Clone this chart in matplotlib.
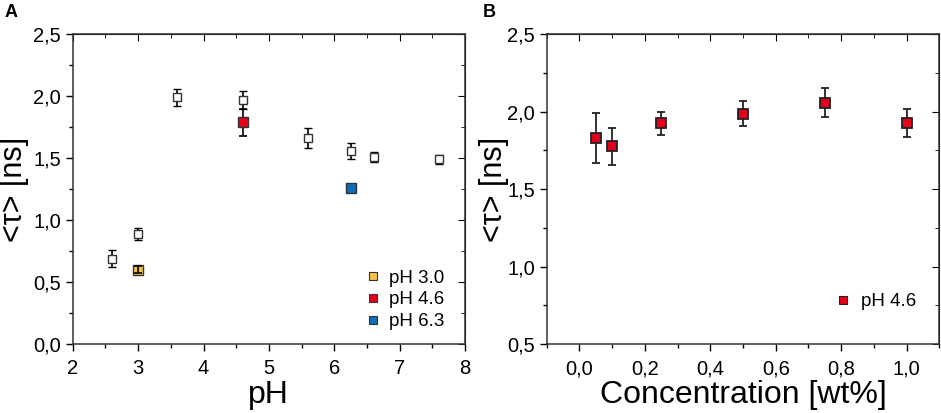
import matplotlib
matplotlib.use("Agg")
from matplotlib import pyplot as plt
from matplotlib.ticker import MultipleLocator, FuncFormatter

plt.rcParams["font.family"] = ["Liberation Sans", "DejaVu Sans"]

# panel A: open squares (all samples)
ph_open = [2.6, 3.0, 3.6, 4.6, 5.6, 6.25, 6.6, 7.6]
tau_open = [0.69, 0.89, 1.99, 1.97, 1.66, 1.56, 1.51, 1.49]
err_open = [0.065, 0.05, 0.07, 0.07, 0.08, 0.065, 0.04, 0.035]

# panel A: highlighted samples
ph_sel = [3.0, 4.6, 6.25]
tau_sel = [0.60, 1.79, 1.26]
err_sel = [0.03, 0.11, 0.02]
labels_sel = ["pH 3.0", "pH 4.6", "pH 6.3"]
colors_sel = ["#F6C445", "#E5001B", "#1070B5"]

# panel B: concentration series at pH 4.6
conc = [0.05, 0.10, 0.25, 0.50, 0.75, 1.00]
tau_conc = [1.83, 1.777, 1.925, 1.988, 2.059, 1.927]
err_conc = [0.163, 0.12, 0.075, 0.083, 0.094, 0.088]

comma = FuncFormatter(lambda v, p: ("%.1f" % v).replace(".", ","))
ylab = "<\u03c4> [ns]"


def style_axes(ax, xmaj, xmin, ymaj, ymin):
    ax.xaxis.set_major_locator(MultipleLocator(xmaj))
    ax.xaxis.set_minor_locator(MultipleLocator(xmin))
    ax.yaxis.set_major_locator(MultipleLocator(ymaj))
    ax.yaxis.set_minor_locator(MultipleLocator(ymin))
    ax.tick_params(which="major", direction="out", length=5, width=1, labelsize=14.5)
    ax.tick_params(axis="x", which="major", pad=6)
    ax.tick_params(which="minor", direction="out", length=3, width=1)
    for s in ax.spines.values():
        s.set_linewidth(1.1)
        s.set_color("#333333")
    # top and right: inward ticks, no labels
    top = ax.secondary_xaxis("top")
    top.xaxis.set_major_locator(MultipleLocator(xmaj))
    top.xaxis.set_minor_locator(MultipleLocator(xmin))
    top.tick_params(which="major", direction="in", length=5, labeltop=False)
    top.tick_params(which="minor", direction="in", length=3)
    right = ax.secondary_yaxis("right")
    right.yaxis.set_major_locator(MultipleLocator(ymaj))
    right.yaxis.set_minor_locator(MultipleLocator(ymin))
    right.tick_params(which="major", direction="in", length=5, labelright=False)
    right.tick_params(which="minor", direction="in", length=3)


fig = plt.figure(figsize=(9.41, 4.13), dpi=100)
axA = fig.add_axes([0.0773, 0.167, 0.4169, 0.750])
axB = fig.add_axes([0.581, 0.167, 0.4172, 0.750])

# panel A
axA.errorbar(ph_open, tau_open, yerr=err_open, fmt="s", ms=5.5, mfc="white",
             mec="#333333", mew=1.0, ecolor="black", elinewidth=1.2,
             capsize=3, capthick=1.2, zorder=2)
bars_on_top = [True, False, False]
for x, y, e, c, top in zip(ph_sel, tau_sel, err_sel, colors_sel, bars_on_top):
    axA.plot([x], [y], "s", ms=7, mfc=c, mec="#333333", mew=1.0, zorder=3)
    axA.errorbar([x], [y], yerr=[e], fmt="none", ecolor="black",
                 elinewidth=1.2, capsize=3, capthick=1.2,
                 zorder=4 if top else 2.5)
axA.set_xlim(2, 8)
axA.set_ylim(0, 2.5)
style_axes(axA, 1, 0.5, 0.5, 0.25)
axA.yaxis.set_major_formatter(comma)
axA.set_xlabel("pH", fontsize=23, labelpad=1)
axA.set_ylabel(ylab, fontsize=22)
axA.yaxis.set_label_coords(-0.112, 0.5)

hA = [axA.plot([], [], "s", ms=5.5, mfc=c, mec="#333333", mew=0.8)[0] for c in colors_sel]
axA.legend(hA, labels_sel, loc="lower right", bbox_to_anchor=(0.99, -0.01),
           frameon=False, fontsize=13.5, handletextpad=0.35, labelspacing=0.25,
           handlelength=1.0)

# panel B
axB.errorbar(conc, tau_conc, yerr=err_conc, fmt="s", ms=6.5, mfc="#E5001B",
             mec="#222222", mew=1.3, ecolor="#222222", elinewidth=1.3,
             capsize=3, capthick=1.3)
axB.set_xlim(-0.1, 1.1)
axB.set_ylim(0.5, 2.5)
style_axes(axB, 0.2, 0.1, 0.5, 0.25)
axB.xaxis.set_major_formatter(comma)
axB.yaxis.set_major_formatter(comma)
axB.set_xlabel("Concentration [wt%]", fontsize=23, labelpad=1)
axB.set_ylabel(ylab, fontsize=22)
axB.yaxis.set_label_coords(-0.095, 0.5)

hB = axB.plot([], [], "s", ms=6, mfc="#E5001B", mec="#222222", mew=0.8)[0]
axB.legend([hB], ["pH 4.6"], loc="lower right", bbox_to_anchor=(0.985, 0.055),
           frameon=False, fontsize=13.5, handletextpad=0.45, handlelength=1.0)

fig.text(0.005, 0.958, "A", fontsize=13, fontweight="bold")
fig.text(0.513, 0.958, "B", fontsize=13, fontweight="bold")

fig.savefig("out.png", dpi=100)
